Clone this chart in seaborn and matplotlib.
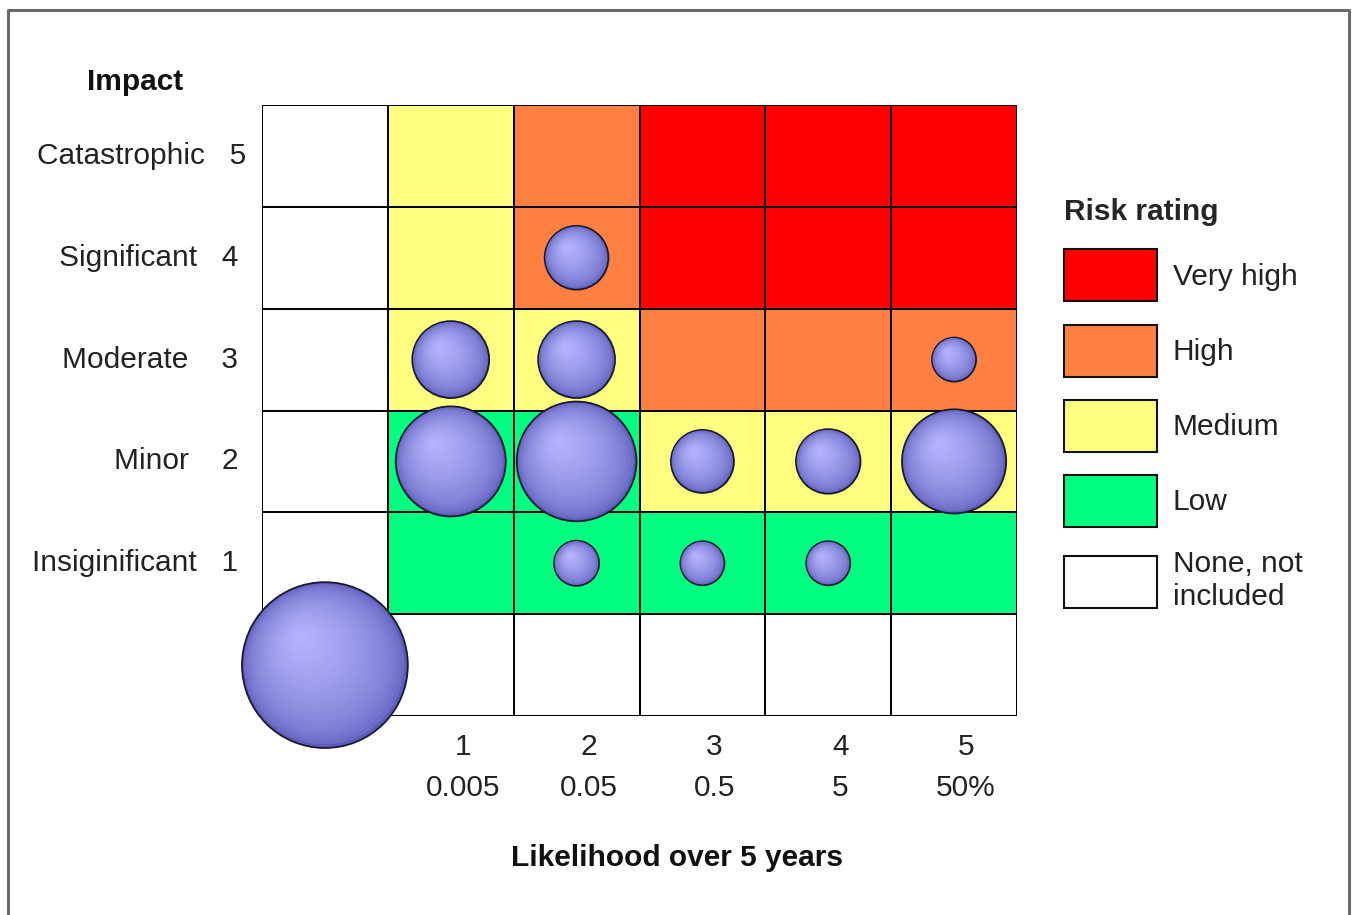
import numpy as np
import pandas as pd
import matplotlib
matplotlib.use("Agg")
import matplotlib.pyplot as plt
import seaborn as sns
from matplotlib.colors import ListedColormap
from matplotlib.path import Path
from matplotlib.markers import MarkerStyle
from matplotlib.patches import Patch
from matplotlib.lines import Line2D
import matplotlib.transforms as mtransforms

# ---------------- data ----------------
impact_labels = ["Catastrophic   5", "Significant   4 ", "Moderate    3 ",
                 "Minor    2 ", "Insiginificant   1 ", ""]
likelihood_labels = ["", "1\n0.005", "2\n0.05", "3\n0.5", "4\n5", "5\n50%"]

# rating code per cell, rows from impact 5 (top) down to 0 (bottom)
# 0 none, 1 low, 2 medium, 3 high, 4 very high
rating_rows = [
    [0, 2, 3, 4, 4, 4],
    [0, 2, 3, 4, 4, 4],
    [0, 2, 2, 3, 3, 3],
    [0, 1, 1, 2, 2, 2],
    [0, 1, 1, 1, 1, 1],
    [0, 0, 0, 0, 0, 0],
]
rating_colors = ["#FFFFFF", "#00FF80", "#FFFF80", "#FF8040", "#FF0000"]
legend_names = ["Very high", "High", "Medium", "Low", "None, not\nincluded"]
legend_codes = [4, 3, 2, 1, 0]

bubble_likelihood = [2, 1, 2, 5, 1, 2, 3, 4, 5, 2, 3, 4, 0]
bubble_impact = [4, 3, 3, 3, 2, 2, 2, 2, 2, 1, 1, 1, 0]
bubble_count = [2.1, 3.05, 3.05, 1.0, 6.25, 7.4, 2.05, 2.15, 5.6, 1.05, 1.0, 1.0, 14.2]

# ---------------- style ----------------
sns.set_style("white")
plt.rcParams["font.family"] = ["Liberation Sans", "DejaVu Sans"]
FS = 21.5

W, H = 1353, 915
fig = plt.figure(figsize=(W / 100, H / 100), dpi=100)
fig.patch.set_facecolor("white")
ax = fig.add_axes([262 / W, 1 - 716 / H, (1017 - 262) / W, (716 - 105) / H])

grid = pd.DataFrame(rating_rows)
sns.heatmap(grid, cmap=ListedColormap(rating_colors), vmin=-0.5, vmax=4.5,
            cbar=False, linewidths=1.2, linecolor="black",
            xticklabels=False, yticklabels=False, ax=ax)

# bubbles
bub = pd.DataFrame({"lik": bubble_likelihood, "imp": bubble_impact, "count": bubble_count})
n_rows = len(rating_rows)
bub["x"] = bub["lik"] + 0.5
bub["y"] = (n_rows - 1 - bub["imp"]) + 0.5

cmax = max(bubble_count)
s_per_count = (2 * 22 * 0.72) ** 2
highlight = np.array([-0.32, 0.36])
outer = np.array([92, 92, 186]) / 255
inner = np.array([182, 182, 255]) / 255
n_layers = 30
bounds = Path([(-1, -1), (1, 1)], [Path.MOVETO, Path.MOVETO])
for k in range(n_layers):
    t = k / n_layers
    circ = Path.circle(tuple(highlight * t), 1 - t)
    path = Path.make_compound_path(circ, bounds)
    col = outer + (inner - outer) * (t ** 0.5)
    first = k == 0
    sns.scatterplot(data=bub, x="x", y="y", size="count",
                    sizes=(0, s_per_count * cmax), size_norm=(0, cmax),
                    legend=False, marker=MarkerStyle(path), color=tuple(col),
                    edgecolor="#1a1a2e" if first else "none",
                    linewidth=1.3 if first else 0, clip_on=False, ax=ax)

ax.set_xlim(0, 6)
ax.set_ylim(6, 0)
ax.set_xlabel("")
ax.set_ylabel("")

ax.set_xticks(np.arange(len(likelihood_labels)) + 0.5)
ax.set_xticklabels(likelihood_labels, fontsize=FS, color="#222222", linespacing=1.6)
ax.set_yticks(np.arange(len(impact_labels)) + 0.5)
ax.set_yticklabels(impact_labels, fontsize=FS, rotation=0, va="center", color="#222222")
ax.tick_params(axis="x", length=0, pad=12)
ax.tick_params(axis="y", length=0, pad=11)
shift = mtransforms.ScaledTranslation(12 / 100, 0, fig.dpi_scale_trans)
for lab in ax.get_xticklabels():
    lab.set_transform(lab.get_transform() + shift)
    lab.set_multialignment("center")
for sp in ax.spines.values():
    sp.set_visible(False)

fig.text(135 / W, 1 - 82 / H, "Impact", ha="center", va="center",
         fontsize=FS, fontweight="bold", color="#111111")
fig.text(677 / W, 1 - 858 / H, "Likelihood over 5 years", ha="center", va="center",
         fontsize=FS, fontweight="bold", color="#111111")

handles = [Patch(facecolor=rating_colors[c], edgecolor="#111111", linewidth=1.5, label=n)
           for n, c in zip(legend_names, legend_codes)]
leg = fig.legend(handles=handles, loc="upper left",
                 bbox_to_anchor=(1064 / W, 1 - 198 / H), frameon=False,
                 title="Risk rating",
                 title_fontproperties={"weight": "bold", "size": FS},
                 fontsize=FS, handlelength=3.1, handleheight=2.3,
                 handletextpad=0.55, labelspacing=0.78, borderpad=0,
                 borderaxespad=0, alignment="left")
for txt in leg.get_texts():
    txt.set_color("#222222")

# outer frame (left, top, right)
fig.add_artist(Line2D([8 / W, 8 / W, 1349 / W, 1349 / W], [0, 1 - 10 / H, 1 - 10 / H, 0],
                      color="#6a6a6a", linewidth=2.2, transform=fig.transFigure))

fig.savefig("out.png", dpi=100)
